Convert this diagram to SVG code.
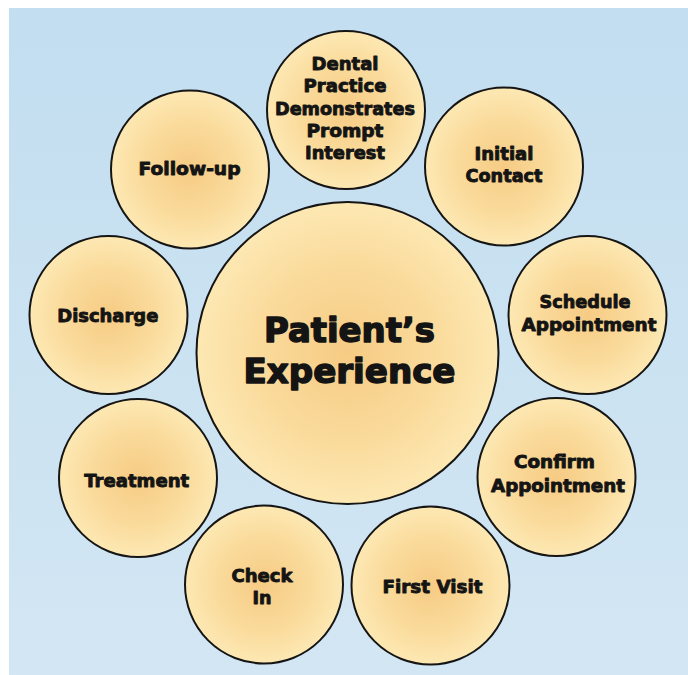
<svg xmlns="http://www.w3.org/2000/svg" width="688" height="675" viewBox="0 0 688 675">
<defs>
<linearGradient id="bg" x1="0" y1="0" x2="0" y2="1">
<stop offset="0" stop-color="#c2def0"/>
<stop offset="1" stop-color="#d3e6f3"/>
</linearGradient>
<radialGradient id="fill" cx="0.5" cy="0.5" r="0.5">
<stop offset="0" stop-color="#f6cb84"/>
<stop offset="0.6" stop-color="#fadb9c"/>
<stop offset="1" stop-color="#fde8b3"/>
</radialGradient>
<style>
circle{fill:url(#fill);stroke:#151515;stroke-width:2}
text{font-family:"DejaVu Sans","Liberation Sans",sans-serif;font-weight:bold;fill:#141414;text-anchor:middle;font-size:18px;stroke:#141414;stroke-width:0.9px;stroke-linejoin:round}
.big{font-size:34px;stroke-width:1.5px}
</style>
</defs>
<rect x="0" y="0" width="688" height="675" fill="#ffffff"/>
<rect x="9" y="8" width="679" height="667" fill="url(#bg)"/>
<g id="connectors"></g>
<g id="center"><circle cx="347.5" cy="353" r="151"/><text class="big" x="349.5" y="342" textLength="171" lengthAdjust="spacingAndGlyphs">Patient’s</text><text class="big" x="349.5" y="383" textLength="212" lengthAdjust="spacingAndGlyphs">Experience</text></g>
<g id="dental"><circle cx="346" cy="110" r="79"/><text x="345" y="70" textLength="67" lengthAdjust="spacingAndGlyphs">Dental</text><text x="345" y="92" textLength="83" lengthAdjust="spacingAndGlyphs">Practice</text><text x="345" y="115" textLength="140" lengthAdjust="spacingAndGlyphs">Demonstrates</text><text x="345" y="137" textLength="77" lengthAdjust="spacingAndGlyphs">Prompt</text><text x="345" y="159" textLength="80" lengthAdjust="spacingAndGlyphs">Interest</text></g>
<g id="initial"><circle cx="504" cy="166.5" r="79"/><text x="504" y="160" textLength="59" lengthAdjust="spacingAndGlyphs">Initial</text><text x="504" y="182" textLength="77" lengthAdjust="spacingAndGlyphs">Contact</text></g>
<g id="schedule"><circle cx="587.5" cy="315" r="79"/><text x="585" y="308" textLength="91" lengthAdjust="spacingAndGlyphs">Schedule</text><text x="589" y="331" textLength="135" lengthAdjust="spacingAndGlyphs">Appointment</text></g>
<g id="confirm"><circle cx="556.5" cy="477" r="79"/><text x="554.5" y="468" textLength="81" lengthAdjust="spacingAndGlyphs">Confirm</text><text x="558" y="492" textLength="134" lengthAdjust="spacingAndGlyphs">Appointment</text></g>
<g id="firstvisit"><circle cx="430.5" cy="585.5" r="79"/><text x="432.5" y="593" textLength="100" lengthAdjust="spacingAndGlyphs">First Visit</text></g>
<g id="checkin"><circle cx="264" cy="584.5" r="79"/><text x="262" y="582" textLength="61" lengthAdjust="spacingAndGlyphs">Check</text><text x="262" y="604" textLength="19" lengthAdjust="spacingAndGlyphs">In</text></g>
<g id="treatment"><circle cx="138" cy="478" r="79"/><text x="136.7" y="487" textLength="105" lengthAdjust="spacingAndGlyphs">Treatment</text></g>
<g id="discharge"><circle cx="108.5" cy="315" r="79"/><text x="107.8" y="322" textLength="101" lengthAdjust="spacingAndGlyphs">Discharge</text></g>
<g id="followup"><circle cx="190" cy="169.5" r="79"/><text x="189.5" y="175" textLength="102" lengthAdjust="spacingAndGlyphs">Follow-up</text></g>
</svg>
